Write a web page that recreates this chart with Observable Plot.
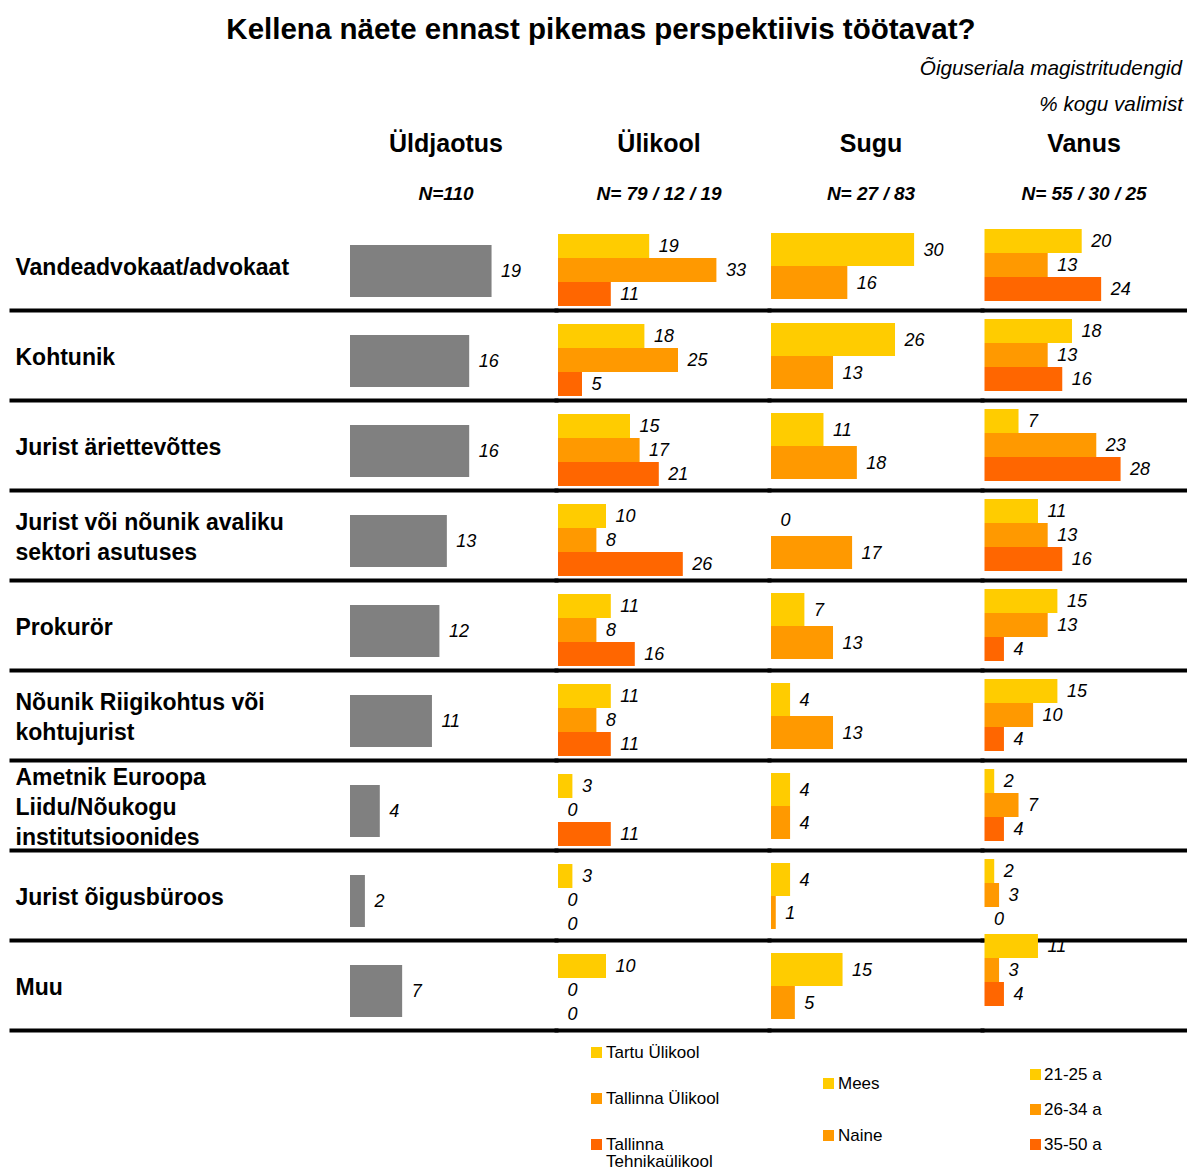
<!DOCTYPE html>
<html>
<head>
<meta charset="utf-8">
<script src="https://cdn.jsdelivr.net/npm/d3@7"></script>
<script src="https://cdn.jsdelivr.net/npm/@observablehq/plot@0.6"></script>
<style>
  body { margin: 0; background: #fff; font-family: "Liberation Sans", Arial, sans-serif; }
  #chart { position: relative; width: 1187px; height: 1171px; overflow: hidden; background: #fff; }
  .abs { position: absolute; white-space: nowrap; color: #000; }
</style>
</head>
<body>
<div id="chart"></div>
<script>
// ---- data -------------------------------------------------------------
const title = "Kellena näete ennast pikemas perspektiivis töötavat?";
const subtitle1 = "Õiguseriala magistritudengid";
const subtitle2 = "% kogu valimist";

const categories = [
  "Vandeadvokaat/advokaat",
  "Kohtunik",
  "Jurist äriettevõttes",
  "Jurist või nõunik avaliku\nsektori asutuses",
  "Prokurör",
  "Nõunik Riigikohtus või\nkohtujurist",
  "Ametnik Euroopa\nLiidu/Nõukogu\ninstitutsioonides",
  "Jurist õigusbüroos",
  "Muu"
];

const panelTitles = ["Üldjaotus", "Ülikool", "Sugu", "Vanus"];
const panelN = ["N=110", "N= 79 / 12 / 19", "N= 27 / 83", "N= 55 / 30 / 25"];

// Üldjaotus
const overall = [19, 16, 16, 13, 12, 11, 4, 2, 7];

// Ülikool
const universities = ["Tartu Ülikool", "Tallinna Ülikool", "Tallinna Tehnikaülikool"];
const tartu = [19, 18, 15, 10, 11, 11, 3, 3, 10];
const tallinnaUlikool = [33, 25, 17, 8, 8, 8, 0, 0, 0];
const tehnikaulikool = [11, 5, 21, 26, 16, 11, 11, 0, 0];

// Sugu
const genders = ["Mees", "Naine"];
const mees = [30, 26, 11, 0, 7, 4, 4, 4, 15];
const naine = [16, 13, 18, 17, 13, 13, 4, 1, 5];

// Vanus
const ageGroups = ["21-25 a", "26-34 a", "35-50 a"];
const age21 = [20, 18, 7, 11, 15, 15, 2, 2, 11];
const age26 = [13, 13, 23, 13, 13, 10, 7, 3, 3];
const age35 = [24, 16, 28, 16, 4, 4, 4, 0, 4];

const gray = "#808080";
const yellow = "#FFCC00";
const orange = "#FF9900";
const darkOrange = "#FF6600";

// ---- layout -----------------------------------------------------------
const FONT = '"Liberation Sans", Arial, sans-serif';
const chart = document.getElementById("chart");
const ROWS_TOP = 220;
const ROW_H = 90;

function addText(text, o) {
  const d = document.createElement("div");
  d.className = "abs";
  d.textContent = text;
  const lh = o.lineHeight || Math.round(o.size * 1.2);
  Object.assign(d.style, {
    left: o.left + "px",
    top: (o.cy - lh / 2) + "px",
    width: o.width ? o.width + "px" : "auto",
    textAlign: o.align || "left",
    fontSize: o.size + "px",
    lineHeight: lh + "px",
    fontWeight: o.weight || "normal",
    fontStyle: o.style || "normal"
  });
  chart.appendChild(d);
  return d;
}

// Title and subtitles
addText(title, {left: 15, width: 1172, cy: 28, size: 29.5, weight: "bold", align: "center"});
addText(subtitle1, {left: 700, width: 482, cy: 67, size: 20.7, style: "italic", align: "right"});
addText(subtitle2, {left: 700, width: 483, cy: 103, size: 20.7, style: "italic", align: "right"});

// Panel headers
const panelCenters = [446, 659, 871, 1084];
panelTitles.forEach((t, i) => {
  addText(t, {left: panelCenters[i] - 100, width: 200, cy: 143, size: 25, weight: "bold", align: "center"});
  addText(panelN[i], {left: panelCenters[i] - 100, width: 200, cy: 193, size: 19, weight: "bold", style: "italic", align: "center"});
});

// One faceted bar panel: rows are categories (fy), bars are series (y)
function barPanel({series, names, colors, left, width, xDomain, xRange, insetTop, insetBottom,
                   shiftRow = null, shiftDy = 0, withCategoryLabels = false}) {
  const rows = [];
  categories.forEach((c, i) => names.forEach((s, j) =>
    rows.push({category: c, series: s, value: series[j][i]})));
  const groups = shiftRow == null
    ? [[rows, 0]]
    : [[rows.filter(d => d.category !== shiftRow), 0], [rows.filter(d => d.category === shiftRow), shiftDy]];

  const marks = [];
  for (const [data, dy] of groups) {
    marks.push(Plot.text(data, {
      x: "value", y: "series", fy: "category", text: d => String(d.value),
      dx: 9, dy, textAnchor: "start", fontStyle: "italic", fontSize: 18, fill: "#000"
    }));
  }
  marks.push(Plot.frame({anchor: "bottom", stroke: "#000", strokeWidth: 4}));
  for (const [data, dy] of groups) {
    marks.push(Plot.barX(data, {x: "value", y: "series", fy: "category", fill: "series", dy}));
  }
  if (withCategoryLabels) {
    marks.push(Plot.text(categories, {
      fy: d => d, text: d => d, frameAnchor: "left", dx: 4, textAnchor: "start",
      lineAnchor: "middle", fontWeight: "bold", fontSize: 23, lineHeight: 30 / 23, fill: "#000"
    }));
  }

  const svg = Plot.plot({
    width,
    height: ROW_H * categories.length + 5,
    marginTop: 0, marginRight: 0, marginBottom: 5, marginLeft: 0,
    facet: {marginTop: 0, marginRight: 0, marginBottom: 0, marginLeft: 0},
    style: {fontFamily: FONT, background: "transparent", overflow: "visible"},
    x: {domain: xDomain, range: xRange, axis: null},
    y: {domain: names, padding: 0, insetTop, insetBottom, axis: null},
    fy: {domain: categories, padding: 0, axis: null},
    color: {domain: names, range: colors},
    marks
  });
  svg.style.position = "absolute";
  svg.style.left = left + "px";
  svg.style.top = ROWS_TOP + "px";
  chart.appendChild(svg);
}

// Üldjaotus (with category labels on the left)
barPanel({
  series: [overall], names: ["Kokku"], colors: [gray],
  left: 11, width: 545, xDomain: [0, 25], xRange: [339, 339 + 25 * 7.45],
  insetTop: 25, insetBottom: 13, withCategoryLabels: true
});

// Ülikool
barPanel({
  series: [tartu, tallinnaUlikool, tehnikaulikool], names: universities,
  colors: [yellow, orange, darkOrange],
  left: 556, width: 213, xDomain: [0, 40], xRange: [2, 2 + 40 * 4.8],
  insetTop: 13, insetBottom: 4
});

// Sugu
barPanel({
  series: [mees, naine], names: genders, colors: [yellow, orange],
  left: 769, width: 213, xDomain: [0, 40], xRange: [2, 2 + 40 * 4.77],
  insetTop: 12, insetBottom: 11
});

// Vanus (the last row sits slightly higher)
barPanel({
  series: [age21, age26, age35], names: ageGroups, colors: [yellow, orange, darkOrange],
  left: 982, width: 205, xDomain: [0, 40], xRange: [2.5, 2.5 + 40 * 4.86],
  insetTop: 9, insetBottom: 9, shiftRow: "Muu", shiftDy: -15
});

// ---- legends ------------------------------------------------------------
function legend(names, colors, {swatchX, textX, centers, maxWidth}) {
  names.forEach((n, i) => {
    const sw = document.createElement("div");
    Object.assign(sw.style, {
      position: "absolute", left: swatchX + "px", top: (centers[i] - 5.5) + "px",
      width: "11px", height: "11px", background: colors[i]
    });
    chart.appendChild(sw);
    const t = document.createElement("div");
    t.className = "abs";
    t.textContent = n;
    Object.assign(t.style, {
      left: textX + "px", top: (centers[i] - 8.5) + "px", fontSize: "17px",
      lineHeight: "17px", whiteSpace: "normal", maxWidth: maxWidth + "px"
    });
    chart.appendChild(t);
  });
}
legend(universities, [yellow, orange, darkOrange], {swatchX: 591, textX: 606, centers: [1052, 1098, 1144], maxWidth: 130});
legend(genders, [yellow, orange], {swatchX: 823, textX: 838, centers: [1083, 1135], maxWidth: 130});
legend(ageGroups, [yellow, orange, darkOrange], {swatchX: 1030, textX: 1044, centers: [1074, 1109, 1144], maxWidth: 130});
</script>
</body>
</html>
